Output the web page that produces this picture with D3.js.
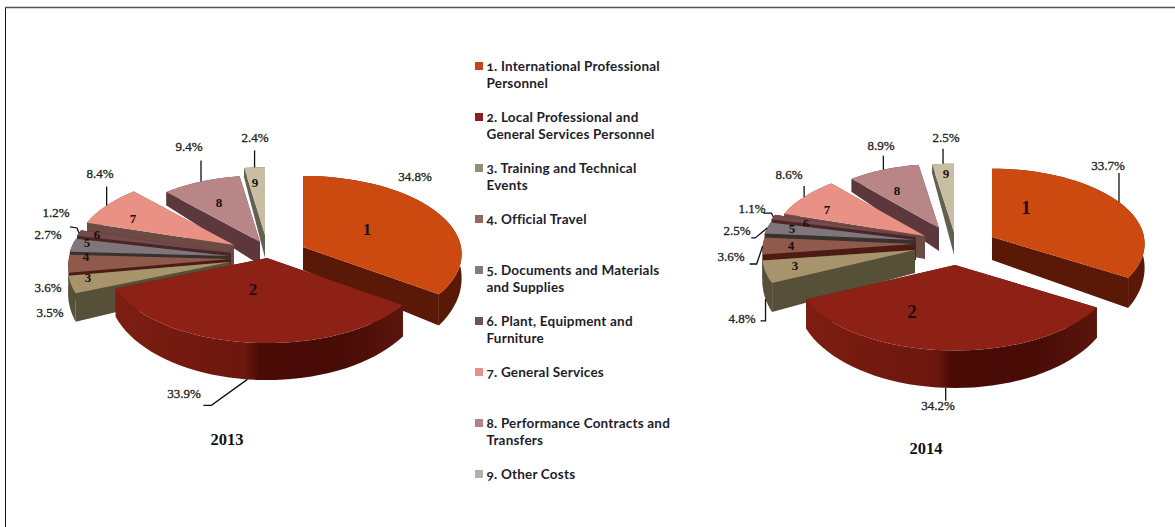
<!DOCTYPE html>
<html>
<head>
<meta charset="utf-8">
<script src="https://cdnjs.cloudflare.com/ajax/libs/d3/7.8.5/d3.min.js"></script>
<style>
  body { margin: 0; background: #fff; }
  svg { display: block; }
</style>
</head>
<body>
<script>
var sliceIds = [1, 2, 3, 4, 5, 6, 7, 8, 9];
var legendNames = [
  ["1. International Professional", "Personnel"],
  ["2. Local Professional and", "General Services Personnel"],
  ["3. Training and Technical", "Events"],
  ["4. Official Travel"],
  ["5. Documents and Materials", "and Supplies"],
  ["6. Plant, Equipment and", "Furniture"],
  ["7. General Services"],
  ["8. Performance Contracts and", "Transfers"],
  ["9. Other Costs"]
];
var values2013 = [34.8, 33.9, 3.5, 3.6, 2.7, 1.2, 8.4, 9.4, 2.4];
var values2014 = [33.7, 34.2, 4.8, 3.6, 2.5, 1.1, 8.6, 8.9, 2.5];

var topColors = ["#cc4a10", "#8e2115", "#a8946c", "#8f5a4c", "#80767a", "#744a4c", "#ea9186", "#b98688", "#c9bea4"];
var sideColors = ["#5a1806", "#5c120b", "#565038", "#4c1c14", "#38322f", "#4a2628", "#6e4a44", "#5c383c", "#62604f"];
var legendColors = ["#c8431a", "#8e2020", "#8f8f78", "#96665f", "#83797f", "#6e5458", "#e8908a", "#b8808c", "#b0b0b0"];

// back to front, walls of the back slices get covered by the front ones
var drawOrder = [8, 7, 6, 5, 4, 3, 2, 0, 1];

var charts = [
  {
    year: "2013", values: values2013, cx: 267, cy: 255, radius: 158,
    yearPos: [227, 445],
    explode: [[36,-8],[0,3],[-37,7],[-37,4],[-37,1],[-36,-2],[-33,-10],[-7,-13],[-2,-20]],
    grow: [1, 1, 1.02, 1.02, 1.02, 1.02, 1, 0.93, 0.95],
    numPos: [[64,-17],[-14,32],[-142,15],[-144,-3],[-143,-14],[-134,-19],[-101,-27],[-41,-40],[-10,-53]],
    labels: [[415,181],[184,398],[50,317],[48,292],[48,239],[56,217],[100,178],[189,151],[255,142]],
    leaders: [null, [[-36,26],[-8,0]], null, null, null, [[-2,-5],[-7,-1]], [[0,-19]], [[0,-21]], [[0,-17]]]
  },
  {
    year: "2014", values: values2014, cx: 955, cy: 250, radius: 152,
    yearPos: [926, 454],
    explode: [[37,-13],[0,15],[-40,0],[-40,-6],[-40,-10],[-39,-13],[-30,-14],[-16,-22],[-1,-18]],
    grow: [1, 1.04, 1, 1, 1, 1, 1, 0.93, 1],
    numPos: [[34,-28],[-43,48],[-120,15],[-124,1],[-123,-12],[-110,-14],[-98,-27],[-42,-38],[-8,-59]],
    labels: [[1108,170],[938,410],[742,323],[731,261],[737,235],[752,213],[789,179],[881,150],[946,142]],
    leaders: [[[0,-29]], [[0,13]], [[0,22],[-5,0]], [[-6,18],[-7,0]], [[-12,10],[-4,0]], [[-2,-4],[-8,0]], [[0,-11]], [[0,-14]], [[0,-15]]]
  }
];

var squash = 0.49, persp = 0.09;
var depthBase = 23, depthSlope = 14;

var width = 1175, height = 527;
var svg = d3.select("body").append("svg").attr("width", width).attr("height", height);
var defs = svg.append("defs");

var wallGrad = defs.append("linearGradient").attr("id", "wall2");
wallGrad.selectAll("stop")
  .data([[0, "#7c1d12"], [0.45, "#6c170e"], [0.5, "#4a0a06"], [0.8, "#480c07"], [1, "#5c150d"]])
  .enter().append("stop")
  .attr("offset", function(d) { return d[0]; })
  .attr("stop-color", function(d) { return d[1]; });

// frame: the title above it is cut off by the crop in the source
svg.append("path").attr("d", "M5.5,527V7.5").attr("fill", "none").attr("stroke", "#111").attr("stroke-width", 1);
svg.append("path").attr("d", "M5,7.5H1175").attr("fill", "none").attr("stroke", "#555").attr("stroke-width", 1.6);

var pie = d3.pie().sort(null).value(function(d) { return d; });

function ground(a) { return { X: Math.sin(a), Y: -Math.cos(a) }; }

function project(a, r, c) {
  var g = ground(a);
  var s = 1 / (1 - persp * g.Y * r);
  return { x: c.radius * r * g.X * s, y: c.radius * squash * r * g.Y * s, Y: g.Y * r };
}

function depthAt(Y) { return depthBase + depthSlope * Y; }

charts.forEach(function(c) {
  var arcs = pie(c.values);
  var g = svg.append("g").attr("class", "pie" + c.year);

  drawOrder.forEach(function(i) {
    var d = arcs[i];
    var ox = c.cx + c.explode[i][0], oy = c.cy + c.explode[i][1];
    var slice = g.append("g").attr("transform", "translate(" + ox + "," + oy + ")");

    var rim = d3.range(0, 41).map(function(k) {
      return project(d.startAngle + (d.endAngle - d.startAngle) * k / 40, c.grow[i], c);
    });
    var first = rim[0], last = rim[rim.length - 1];
    var line = d3.line().x(function(p) { return p.x; }).y(function(p) { return p.y; });
    var low = function(p) { return { x: p.x, y: p.y + depthAt(p.Y) }; };

    // cut faces first, then the outer wall
    var apex = { x: 0, y: 0, Y: 0 };
    var side = sideColors[i];
    slice.append("path")
      .attr("d", line([apex, last, low(last), low(apex)]) + "Z")
      .attr("fill", side);
    slice.append("path")
      .attr("d", line([apex, first, low(first), low(apex)]) + "Z")
      .attr("fill", side);
    slice.append("path")
      .attr("d", line(rim.concat(rim.map(low).reverse())) + "Z")
      .attr("fill", i === 1 ? "url(#wall2)" : side);
    slice.append("path")
      .attr("d", line([apex].concat(rim)) + "Z")
      .attr("fill", topColors[i]);

    slice.append("text")
      .attr("x", c.numPos[i][0]).attr("y", c.numPos[i][1] + 5)
      .attr("text-anchor", "middle")
      .attr("font-family", "'Liberation Serif', serif")
      .attr("font-weight", "bold")
      .attr("font-size", i < 2 ? (c.year === "2014" ? 19 : 17) : 13)
      .attr("fill", "#1a0f0c")
      .text(sliceIds[i]);

    var mid = (d.startAngle + d.endAngle) / 2;
    var start = project(mid, c.grow[i], c);
    if (i === 1 || i === 2) start = low(start);
    var lead = c.leaders[i];
    if (lead) {
      var pts = [[start.x, start.y]];
      lead.forEach(function(s) {
        var p = pts[pts.length - 1];
        pts.push([p[0] + s[0], p[1] + s[1]]);
      });
      slice.append("path").attr("class", "leader")
        .attr("d", d3.line()(pts))
        .attr("fill", "none").attr("stroke", "#111").attr("stroke-width", 1.3);
    }
  });

  // percent labels go on top of everything
  g.selectAll("text.val").data(arcs).enter().append("text")
    .attr("class", "val")
    .attr("x", function(d, i) { return c.labels[i][0]; })
    .attr("y", function(d, i) { return c.labels[i][1]; })
    .attr("text-anchor", "middle")
    .attr("font-family", "'Liberation Serif', serif")
    .attr("font-size", 13)
    .attr("fill", "#222")
    .attr("stroke", "#222")
    .attr("stroke-width", 0.3)
    .text(function(d) { return d.data.toFixed(1) + "%"; });

  g.append("text")
    .attr("x", c.yearPos[0]).attr("y", c.yearPos[1])
    .attr("text-anchor", "middle")
    .attr("font-family", "'Liberation Serif', serif")
    .attr("font-weight", "bold").attr("font-size", 16.5)
    .attr("fill", "#111")
    .text(c.year);
});

// legend
var legendY = d3.scalePoint().domain(sliceIds).range([66, 474]);
var legend = svg.append("g").attr("class", "legend");
var rows = legend.selectAll("g").data(sliceIds).enter().append("g")
  .attr("transform", function(d) { return "translate(475," + legendY(d) + ")"; });
rows.append("rect")
  .attr("x", 0).attr("y", -4).attr("width", 8).attr("height", 8)
  .attr("fill", function(d, i) { return legendColors[i]; });
rows.each(function(d, i) {
  var row = d3.select(this);
  legendNames[i].forEach(function(t, j) {
    row.append("text")
      .attr("x", 11.5).attr("y", 4.5 + j * 17.5)
      .attr("font-family", "Lato, sans-serif")
      .attr("font-weight", "bold").attr("font-size", 13.5)
      .attr("letter-spacing", 0.2)
      .style("font-variant-numeric", "oldstyle-nums")
      .attr("fill", "#1d1d2b")
      .text(t);
  });
});
</script>
</body>
</html>
